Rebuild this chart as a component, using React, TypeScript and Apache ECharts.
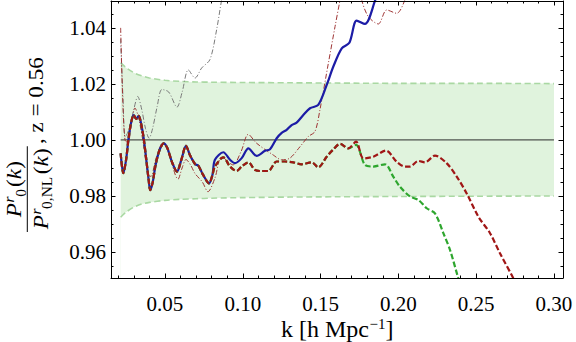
import React, { useEffect, useRef } from "react";
import * as echarts from "echarts";

const FONT = "'Liberation Serif', 'Times New Roman', serif";

// Tick values
const xMajor = [0.05, 0.1, 0.15, 0.2, 0.25, 0.3];
const xMinor = [0.02, 0.03, 0.04, 0.06, 0.07, 0.08, 0.09, 0.11, 0.12, 0.13, 0.14, 0.16, 0.17, 0.18, 0.19, 0.21, 0.22, 0.23, 0.24, 0.26, 0.27, 0.28, 0.29];
const yMajor = [0.96, 0.98, 1.0, 1.02, 1.04];
const yMinor = [0.955, 0.965, 0.97, 0.975, 0.985, 0.99, 0.995, 1.005, 1.01, 1.015, 1.025, 1.03, 1.035, 1.045];

// Error band
const bandK = [0.0215, 0.025, 0.03, 0.035, 0.04, 0.05, 0.06, 0.07, 0.08, 0.1, 0.13, 0.16, 0.2, 0.25, 0.3];
const bandUpper = [1.0276, 1.0258, 1.024, 1.0229, 1.0221, 1.0213, 1.0209, 1.0207, 1.0206, 1.0205, 1.0204, 1.0203, 1.0202, 1.0202, 1.0201];
const bandLower = [0.9724, 0.9742, 0.976, 0.9771, 0.9777, 0.9784, 0.9788, 0.979, 0.9792, 0.9794, 0.9796, 0.9797, 0.9798, 0.9799, 0.98];

// Reference line
const unityK = [0.0215, 0.3];
const unityV = [1.0, 1.0];

// Thick curves: shared low-k part
const sharedK = [0.0215, 0.0232, 0.025, 0.0266, 0.0283, 0.0299, 0.0315, 0.0331, 0.0347, 0.0363, 0.038, 0.0395, 0.0405, 0.042, 0.044, 0.0465, 0.0492, 0.0515, 0.0545, 0.0577, 0.0605, 0.0635, 0.066, 0.0693, 0.0714, 0.0745, 0.0783, 0.0805];
const sharedV = [0.9952, 0.9881, 0.9929, 1.0006, 1.0064, 1.0089, 1.0075, 1.0086, 1.0057, 1.0006, 0.9929, 0.9857, 0.9821, 0.9846, 0.9911, 0.9964, 0.9988, 0.9971, 0.9921, 0.9887, 0.9929, 0.9979, 0.9946, 0.9914, 0.9908, 0.9875, 0.9845, 0.9875];

// Blue solid tail
const blueK = [0.0821, 0.0875, 0.0918, 0.095, 0.0993, 0.1036, 0.1089, 0.1143, 0.1175, 0.1218, 0.125, 0.1282, 0.1314, 0.1346, 0.1389, 0.1432, 0.1485, 0.1539, 0.1582, 0.1636, 0.1685, 0.1732, 0.1785, 0.185, 0.19];
const blueV = [0.9929, 0.9956, 0.9929, 0.9917, 0.9935, 0.997, 0.9943, 0.9961, 0.9967, 1.0006, 1.0025, 1.0036, 1.0053, 1.0062, 1.0089, 1.0113, 1.0125, 1.0196, 1.0262, 1.0327, 1.0347, 1.0426, 1.0414, 1.0497, 1.058];

// Red/green dashed middle part
const midK = [0.0821, 0.0875, 0.0918, 0.096, 0.0993, 0.1036, 0.1078, 0.112, 0.1164, 0.1218, 0.1271, 0.1325, 0.1378, 0.1443, 0.1485, 0.1539, 0.158, 0.1625, 0.1678];
const midV = [0.9905, 0.9938, 0.9905, 0.9889, 0.9905, 0.992, 0.9893, 0.9889, 0.9889, 0.9923, 0.9923, 0.992, 0.9913, 0.992, 0.9902, 0.994, 0.9965, 0.9986, 0.997];

// Red dashed tail
const redK = [0.1728, 0.1775, 0.1839, 0.192, 0.1989, 0.204, 0.2075, 0.2128, 0.2171, 0.2235, 0.231, 0.2375, 0.2439, 0.2514, 0.2589, 0.2653, 0.2739, 0.276];
const redV = [0.9994, 0.9934, 0.994, 0.9962, 0.9922, 0.9905, 0.9905, 0.9925, 0.992, 0.9944, 0.9917, 0.9869, 0.9809, 0.9726, 0.9667, 0.9595, 0.9506, 0.948];

// Green dashed tail
const greenK = [0.1728, 0.1785, 0.1839, 0.1914, 0.1967, 0.201, 0.2075, 0.2128, 0.2182, 0.2235, 0.2289, 0.2332, 0.2385, 0.24];
const greenV = [0.9982, 0.9911, 0.9905, 0.9913, 0.9869, 0.9833, 0.9798, 0.9786, 0.9756, 0.9738, 0.9667, 0.9607, 0.9506, 0.948];

// Thin dark-red dot-dashed
const thinRedK = [0.0215, 0.0228, 0.0243, 0.0262, 0.0285, 0.0307, 0.033, 0.036, 0.0391, 0.041, 0.044, 0.0487, 0.052, 0.0584, 0.061, 0.0635, 0.0665, 0.0693, 0.074, 0.0776, 0.0821, 0.0864, 0.0937, 0.099, 0.1035, 0.1089, 0.1196, 0.125, 0.1303, 0.1368, 0.1421, 0.1464, 0.1496, 0.155, 0.1593, 0.1625, 0.165, 0.174, 0.1764, 0.1807, 0.1871, 0.1925, 0.1989, 0.2042, 0.207];
const thinRedV = [1.04, 1.015, 1.0, 0.999, 1.006, 1.0114, 1.008, 0.999, 0.9875, 0.987, 0.993, 0.999, 0.996, 0.986, 0.99, 0.993, 0.991, 0.988, 0.985, 0.9815, 0.9864, 0.994, 0.9911, 0.996, 1.002, 0.9988, 0.9946, 0.9929, 0.9935, 0.9976, 1.0012, 1.003, 1.0108, 1.0274, 1.0405, 1.05, 1.058, 1.058, 1.05, 1.044, 1.0414, 1.0464, 1.0452, 1.05, 1.056];

// Thin gray dot-dashed
const grayK = [0.0215, 0.023, 0.0245, 0.027, 0.03, 0.0325, 0.035, 0.0375, 0.0398, 0.042, 0.045, 0.048, 0.0524, 0.0577, 0.061, 0.065, 0.0693, 0.0736, 0.0789, 0.0832, 0.0864, 0.089];
const grayV = [1.036, 1.015, 1.001, 1.004, 1.011, 1.0155, 1.011, 1.004, 1.0006, 1.004, 1.012, 1.018, 1.0171, 1.0117, 1.017, 1.025, 1.0221, 1.0257, 1.0287, 1.0394, 1.05, 1.057];

const pairs = (k: number[], v: number[]) => k.map((x, i) => [x, v[i]]);

const X_MIN = 0.0153;
const X_MAX = 0.3058;
const Y_MIN = 0.9507;
const Y_MAX = 1.0496;

const GRID = { left: 111, right: 13, top: 1, bottom: 64, containLabel: false };

const BAND_FILL = "#e0f3dd";
const BAND_EDGE = "#a9d8a2";
const FRAME = "#000000";

function lineSeries(name: string, data: number[][], color: string, width: number, type: any, z: number, smooth = 0.3): any {
  return {
    type: "line",
    name,
    data,
    xAxisIndex: 0,
    yAxisIndex: 0,
    symbol: "none",
    smooth,
    z,
    lineStyle: { color, width, type },
  };
}

function areaSeries(name: string, data: number[][], fill: string, z: number): any {
  return {
    type: "line",
    name,
    data,
    xAxisIndex: 0,
    yAxisIndex: 0,
    symbol: "none",
    smooth: 0.3,
    z,
    lineStyle: { width: 0, opacity: 0 },
    areaStyle: { color: fill, opacity: 1, origin: "start" },
  };
}

// Axes of the overlay chart that draws the frame and its inward ticks
function frameAxis(min: number, max: number, position: string, values: number[], len: number, withLine: boolean): any {
  return {
    type: "value",
    min,
    max,
    position,
    splitLine: { show: false },
    axisLine: { show: withLine, onZero: false, lineStyle: { color: FRAME, width: 1 } },
    axisTick: { show: true, inside: true, length: len, customValues: values, lineStyle: { color: FRAME, width: 1 } },
    axisLabel: { show: false },
  };
}

// plain-text pieces of the rotated y title
const T = (text: string, x: number, base: number, size: number, italic: boolean) => ({
  type: "text",
  x,
  y: base - 0.34 * size,
  style: { text, fontFamily: FONT, fontSize: size, fontStyle: italic ? "italic" : "normal", fill: "#000", align: "left", verticalAlign: "middle" },
});

export default function App() {
  const ref = useRef<HTMLDivElement>(null);
  const frameRef = useRef<HTMLDivElement>(null);
  useEffect(() => {
    const chart = echarts.init(ref.current!, null, { renderer: "svg" });
    const option: any = {
      animation: false,
      backgroundColor: "#fff",
      grid: GRID,
      xAxis: {
        type: "value",
        min: X_MIN,
        max: X_MAX,
        splitLine: { show: false },
        axisLine: { show: false },
        axisTick: { show: false },
        axisLabel: { customValues: xMajor, margin: 19, lineHeight: 14, color: "#000", fontFamily: FONT, fontSize: 21, formatter: (v: number) => v.toFixed(2) },
      },
      yAxis: {
        type: "value",
        min: Y_MIN,
        max: Y_MAX,
        splitLine: { show: false },
        axisLine: { show: false },
        axisTick: { show: false },
        axisLabel: { customValues: yMajor, margin: 5, color: "#000", fontFamily: FONT, fontSize: 21, formatter: (v: number) => v.toFixed(2) },
      },
      series: [
        areaSeries("bandUpperFill", pairs(bandK, bandUpper), BAND_FILL, 1),
        areaSeries("bandLowerMask", pairs(bandK, bandLower), "#ffffff", 1),
        lineSeries("bandUpper", pairs(bandK, bandUpper), BAND_EDGE, 1.6, [6, 3.5], 2),
        lineSeries("bandLower", pairs(bandK, bandLower), BAND_EDGE, 1.6, [6, 3.5], 2),
        lineSeries("unity", pairs(unityK, unityV), "#2b2b2b", 1, "solid", 3, 0),
        lineSeries("gray", pairs(grayK, grayV), "#7a7a7a", 1, [5, 2, 1, 2], 4),
        lineSeries("thinRed", pairs(thinRedK, thinRedV), "#9e3434", 1, [5, 2, 1, 2], 5),
        lineSeries("blue", pairs([...sharedK, ...blueK], [...sharedV, ...blueV]), "#1c1ca6", 2.2, "solid", 6),
        lineSeries("green", pairs([...sharedK, ...midK, ...greenK], [...sharedV, ...midV, ...greenV]), "#2ea62e", 2.2, [5.5, 2.5], 7),
        lineSeries("red", pairs([...sharedK, ...midK, ...redK], [...sharedV, ...midV, ...redV]), "#a01616", 2.2, [5.5, 2.5], 8),
      ],
      graphic: [
        // x-axis title: k [h Mpc^-1]
        { type: "text", x: 281, y: 328.8, style: { text: "k [h Mpc", fontFamily: FONT, fontSize: 24, fill: "#000", align: "left", verticalAlign: "middle" } },
        { type: "text", x: 369.5, y: 324.4, style: { text: "\u22121", fontFamily: FONT, fontSize: 15, fill: "#000", align: "left", verticalAlign: "middle" } },
        { type: "text", x: 385.5, y: 328.8, style: { text: "]", fontFamily: FONT, fontSize: 24, fill: "#000", align: "left", verticalAlign: "middle" } },
        // y-axis title, rotated
        {
          type: "group",
          x: 27.3,
          y: 232,
          rotation: Math.PI / 2,
          scaleX: 1.1,
          children: [
            { type: "line", shape: { x1: 0, y1: 0, x2: 78, y2: 0 }, style: { stroke: "#000", lineWidth: 1 } },
            // numerator
            T("P", 13.5, -6, 21, true),
            T("r", 26.8, -13.5, 14, true),
            T("0", 32, -1.5, 14, false),
            T("(", 41, -6, 21, false),
            T("k", 48, -6, 21, true),
            T(")", 57.5, -6, 21, false),
            // denominator
            T("P", 2.5, 21, 21, true),
            T("r", 15.8, 13.5, 14, true),
            T("0,NL", 21, 25, 14, false),
            T("(", 52.5, 21, 21, false),
            T("k", 59.5, 21, 21, true),
            T(")", 69, 21, 21, false),
            // redshift
            T(", z = 0.56", 80, 15.4, 21, false),
          ],
        },
      ],
    };
    chart.setOption(option);

    // Transparent overlay chart with the same grid: frame and ticks
    const frame = echarts.init(frameRef.current!, null, { renderer: "svg" });
    frame.setOption({
      animation: false,
      backgroundColor: "transparent",
      grid: GRID,
      xAxis: [
        frameAxis(X_MIN, X_MAX, "bottom", xMajor, 4.5, true),
        frameAxis(X_MIN, X_MAX, "bottom", xMinor, 2.5, false),
        frameAxis(X_MIN, X_MAX, "top", xMajor, 4.5, true),
        frameAxis(X_MIN, X_MAX, "top", xMinor, 2.5, false),
      ],
      yAxis: [
        frameAxis(Y_MIN, Y_MAX, "left", yMajor, 4.5, true),
        frameAxis(Y_MIN, Y_MAX, "left", yMinor, 2.5, false),
        frameAxis(Y_MIN, Y_MAX, "right", yMajor, 4.5, true),
        frameAxis(Y_MIN, Y_MAX, "right", yMinor, 2.5, false),
      ],
    } as any);

    return () => {
      chart.dispose();
      frame.dispose();
    };
  }, []);
  return (
    <div style={{ position: "fixed", left: 0, top: 0, width: 576, height: 342 }}>
      <div ref={ref} style={{ position: "absolute", left: 0, top: 0, width: 576, height: 342 }} />
      <div ref={frameRef} style={{ position: "absolute", left: 0, top: 0, width: 576, height: 342, pointerEvents: "none", zIndex: 2 }} />
    </div>
  );
}
